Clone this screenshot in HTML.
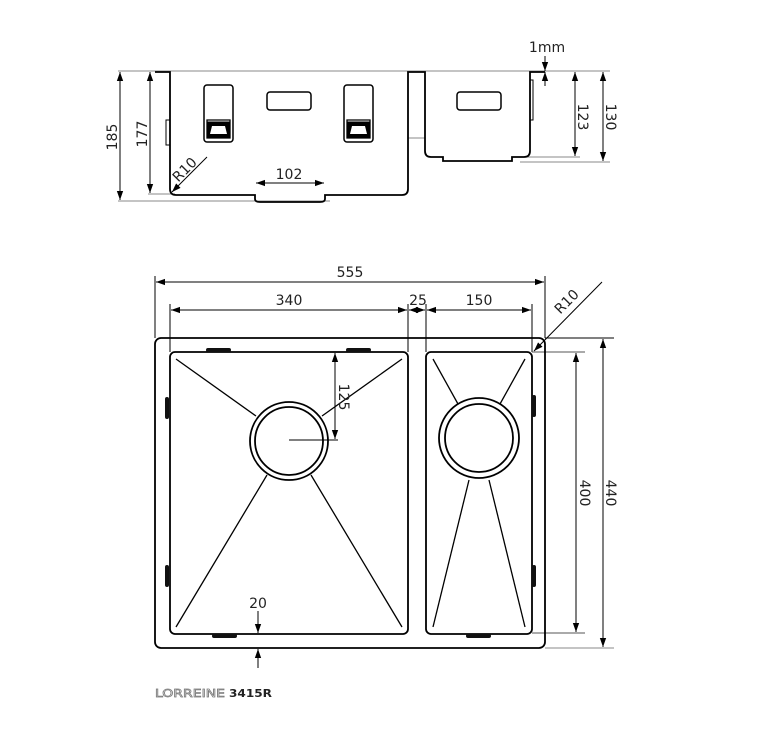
<!DOCTYPE html>
<html><head><meta charset="utf-8"><style>
body{margin:0;background:#fff;}
svg{display:block;font-family:"DejaVu Sans","Liberation Sans",sans-serif;}
</style></head><body>
<svg width="769" height="741" viewBox="0 0 769 741" xmlns="http://www.w3.org/2000/svg">
<defs>
<marker id="a" viewBox="0 0 10 10" refX="10" refY="5" markerWidth="9" markerHeight="9" orient="auto-start-reverse" markerUnits="userSpaceOnUse"><path d="M0,1.5 L10,5 L0,8.5 z" fill="#000"/></marker>
</defs>
<g fill="none" stroke="#000" stroke-width="1">
<line x1="118" y1="71" x2="610" y2="71" stroke="#888"/>
<line x1="118" y1="201" x2="330" y2="201" stroke="#888"/>
<line x1="148" y1="194" x2="175" y2="194" stroke="#888"/>
<line x1="520" y1="157" x2="580" y2="157" stroke="#888"/>
<line x1="520" y1="162" x2="610" y2="162" stroke="#888"/>
<line x1="408" y1="138" x2="425" y2="138" stroke="#888"/>
<path d="M155,72 H170 V189 Q170,195 176,195 H255 V199 Q255,202 260,202 H320 Q325,202 325,199 V195 H402 Q408,195 408,189 V72 H425 V151 Q425,157 431,157 H443 V161 H512 V157 H524 Q530,157 530,151 V72 H545" stroke-width="1.8"/>
<rect x="166" y="120" width="4" height="25" stroke-width="1"/>
<rect x="530" y="80" width="3" height="40"/>
<rect x="267" y="92" width="44" height="18" rx="3" stroke-width="1.5"/>
<rect x="457" y="92" width="44" height="18" rx="3" stroke-width="1.5"/>
<rect x="204" y="85" width="29" height="57" rx="3" stroke-width="1.5"/>
<rect x="344" y="85" width="29" height="57" rx="3" stroke-width="1.5"/>
<path d="M207,120 H230 V138 H207 Z" stroke-width="1.3"/>
<path d="M347,120 H370 V138 H347 Z" stroke-width="1.3"/>
<path d="M208,122 H229 V137 H208 Z" fill="#000"/>
<path d="M348,122 H369 V137 H348 Z" fill="#000"/>
<path d="M212,126 H225 L227,134 H210 Z" fill="#fff" stroke="none"/>
<path d="M352,126 H365 L367,134 H350 Z" fill="#fff" stroke="none"/>
<line x1="120" y1="72" x2="120" y2="200" marker-start="url(#a)" marker-end="url(#a)"/>
<line x1="150" y1="72" x2="150" y2="193" marker-start="url(#a)" marker-end="url(#a)"/>
<line x1="603" y1="72" x2="603" y2="161" marker-start="url(#a)" marker-end="url(#a)"/>
<line x1="575" y1="72" x2="575" y2="156" marker-start="url(#a)" marker-end="url(#a)"/>
<line x1="545" y1="56" x2="545" y2="71" marker-end="url(#a)"/>
<line x1="545" y1="86" x2="545" y2="72" marker-end="url(#a)"/>
<line x1="256" y1="183" x2="324" y2="183" marker-start="url(#a)" marker-end="url(#a)"/>
<line x1="207" y1="157" x2="172" y2="192" marker-end="url(#a)"/>

<line x1="155" y1="276" x2="155" y2="338"/>
<line x1="545" y1="276" x2="545" y2="338"/>
<line x1="170" y1="304" x2="170" y2="352"/>
<line x1="408" y1="304" x2="408" y2="352"/>
<line x1="426" y1="304" x2="426" y2="352"/>
<line x1="532" y1="304" x2="532" y2="352"/>
<line x1="156" y1="282" x2="544" y2="282" marker-start="url(#a)" marker-end="url(#a)"/>
<line x1="171" y1="310" x2="407" y2="310" marker-start="url(#a)" marker-end="url(#a)"/>
<line x1="409" y1="310" x2="425" y2="310" marker-start="url(#a)" marker-end="url(#a)"/>
<line x1="427" y1="310" x2="531" y2="310" marker-start="url(#a)" marker-end="url(#a)"/>
<line x1="602" y1="282" x2="534" y2="351" marker-end="url(#a)"/>
<line x1="545" y1="338" x2="614" y2="338"/>
<line x1="532" y1="352" x2="585" y2="352" stroke="#555"/>
<line x1="532" y1="633" x2="585" y2="633" stroke="#555"/>
<line x1="545" y1="648" x2="614" y2="648" stroke="#888"/>
<line x1="603" y1="339" x2="603" y2="647" marker-start="url(#a)" marker-end="url(#a)"/>
<line x1="576" y1="353" x2="576" y2="632" marker-start="url(#a)" marker-end="url(#a)"/>

<rect x="155" y="338" width="390" height="310" rx="6" stroke-width="1.8"/>
<rect x="170" y="352" width="238" height="282" rx="5" stroke-width="1.8"/>
<rect x="426" y="352" width="106" height="282" rx="5" stroke-width="1.8"/>
<g stroke-width="1.3">
<line x1="176" y1="359" x2="256" y2="416"/>
<line x1="402" y1="359" x2="322" y2="416"/>
<line x1="176" y1="627" x2="267" y2="475"/>
<line x1="402" y1="627" x2="311" y2="475"/>
<line x1="433" y1="359" x2="458" y2="404"/>
<line x1="525" y1="359" x2="500" y2="404"/>
<line x1="433" y1="627" x2="469" y2="480"/>
<line x1="525" y1="627" x2="489" y2="480"/>
</g>
<circle cx="289" cy="441" r="39" stroke-width="1.8"/>
<circle cx="289" cy="441" r="34" stroke-width="1.8"/>
<circle cx="479" cy="438" r="40" stroke-width="1.8"/>
<circle cx="479" cy="438" r="34" stroke-width="1.8"/>
<line x1="289" y1="440" x2="338" y2="440"/>
<line x1="335" y1="353" x2="335" y2="439" marker-start="url(#a)" marker-end="url(#a)"/>
<line x1="258" y1="611" x2="258" y2="633" marker-end="url(#a)"/>
<line x1="258" y1="668" x2="258" y2="649" marker-end="url(#a)"/>
</g>
<g fill="#111">
<rect x="206" y="348" width="25" height="4" rx="2"/>
<rect x="346" y="348" width="25" height="4" rx="2"/>
<rect x="212" y="634" width="25" height="4" rx="2"/>
<rect x="466" y="634" width="25" height="4" rx="2"/>
<rect x="165" y="397" width="4" height="22" rx="2"/>
<rect x="165" y="565" width="4" height="22" rx="2"/>
<rect x="532" y="395" width="4" height="22" rx="2"/>
<rect x="532" y="565" width="4" height="22" rx="2"/>
</g>
<g font-size="14" fill="#222">
<text x="547" y="52" text-anchor="middle">1mm</text>
<text x="289" y="179" text-anchor="middle">102</text>
<text transform="translate(117,137) rotate(-90)" text-anchor="middle">185</text>
<text transform="translate(147,134) rotate(-90)" text-anchor="middle">177</text>
<text transform="translate(578,117) rotate(90)" text-anchor="middle">123</text>
<text transform="translate(606,117) rotate(90)" text-anchor="middle">130</text>
<text transform="translate(188,173) rotate(-45)" text-anchor="middle">R10</text>
<text x="350" y="277" text-anchor="middle">555</text>
<text x="289" y="305" text-anchor="middle">340</text>
<text x="418" y="305" text-anchor="middle">25</text>
<text x="479" y="305" text-anchor="middle">150</text>
<text transform="translate(570,305) rotate(-45)" text-anchor="middle">R10</text>
<text transform="translate(339,397) rotate(90)" text-anchor="middle">125</text>
<text transform="translate(580,493) rotate(90)" text-anchor="middle">400</text>
<text transform="translate(606,493) rotate(90)" text-anchor="middle">440</text>
<text x="258" y="608" text-anchor="middle">20</text>
</g>
<text x="155" y="697" font-size="11" fill="#fff" stroke="#777" stroke-width="0.7" textLength="70" lengthAdjust="spacingAndGlyphs">LORREINE</text>
<text x="229" y="697" font-size="11" font-weight="bold" fill="#222" textLength="43" lengthAdjust="spacingAndGlyphs">3415R</text>
</svg>
</body></html>
